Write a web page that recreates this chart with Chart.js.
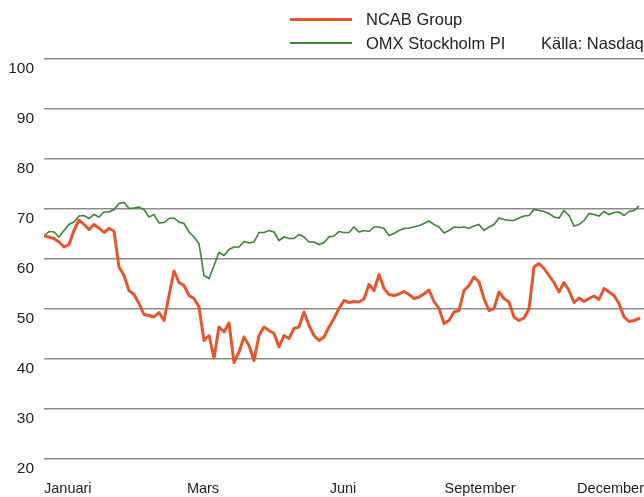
<!DOCTYPE html>
<html>
<head>
<meta charset="utf-8">
<script src="https://cdn.jsdelivr.net/npm/chart.js@4.4.1/dist/chart.umd.min.js"></script>
<style>
  html, body { margin:0; padding:0; background:#fff; }
  #wrap { position:relative; width:644px; height:497px; overflow:hidden; }
  .lg { position:absolute; font-family:"Liberation Sans",Arial,sans-serif; font-size:16.5px; color:#222; line-height:20px; white-space:nowrap; }
  .sw { position:absolute; height:3px; width:62px; }
</style>
</head>
<body>
<div id="wrap">
  <canvas id="c" width="644" height="497"></canvas>
  <div class="sw" style="left:290px; top:18px; background:#e8542b;"></div>
  <div class="lg" style="left:366px; top:9px;">NCAB Group</div>
  <div class="sw" style="left:290px; top:42px; height:2px; background:#3d8535;"></div>
  <div class="lg" style="left:366px; top:33px;">OMX Stockholm PI</div>
  <div class="lg" style="left:541px; top:33px;">Källa: Nasdaq</div>
</div>
<script>
// x-axis month labels and their positions (in sample-index units, 0..120)
const monthLabels = ["Januari", "Mars", "Juni", "September", "December"];
const monthPositions = [0, 31.8, 59.8, 87.2, 120];

// NCAB Group (indexed)
const ncab = [
  64.6, 64.4, 64.1, 63.4, 62.4, 62.9, 65.7, 67.8, 66.9, 65.9,
  66.9, 66.2, 65.3, 66.1, 65.6, 58.4, 56.7, 53.7, 52.9, 51.1,
  48.9, 48.7, 48.4, 49.3, 47.7, 52.7, 57.6, 55.3, 54.7, 52.7,
  52.1, 50.4, 43.7, 44.7, 40.2, 46.4, 45.4, 47.2, 39.3, 41.4,
  44.4, 42.7, 39.7, 44.7, 46.4, 45.7, 45.1, 42.4, 44.7, 44.1,
  46.1, 46.4, 49.4, 46.7, 44.7, 43.7, 44.4, 46.4, 48.1, 50.1,
  51.7, 51.3, 51.5, 51.4, 52.0, 54.9, 53.7, 56.9, 54.1, 52.9,
  52.7, 53.0, 53.5, 52.9, 52.1, 52.4, 53.0, 53.8, 51.5, 50.1,
  47.1, 47.7, 49.4, 49.7, 53.7, 54.7, 56.4, 55.4, 52.1, 49.7,
  50.1, 53.4, 52.1, 51.4, 48.4, 47.7, 48.2, 50.0, 58.4, 59.1,
  58.1, 56.7, 55.3, 53.4, 55.3, 53.7, 51.3, 52.2, 51.5, 52.1,
  52.6, 51.9, 54.1, 53.4, 52.7, 51.1, 48.4, 47.5, 47.7, 48.1
];

// OMX Stockholm PI (indexed)
const omx = [
  64.6, 65.5, 65.4, 64.4, 65.7, 66.9, 67.4, 68.6, 68.7, 68.1,
  68.9, 68.4, 69.4, 69.4, 69.9, 71.1, 71.3, 70.1, 70.2, 70.4,
  69.9, 68.4, 68.9, 67.2, 67.3, 68.1, 68.2, 67.4, 67.1, 65.4,
  64.4, 63.1, 56.7, 56.1, 58.7, 61.3, 60.7, 61.9, 62.4, 62.4,
  63.5, 63.2, 63.4, 65.3, 65.3, 65.7, 65.4, 63.7, 64.4, 64.1,
  64.1, 64.9, 64.4, 63.4, 63.4, 62.9, 63.3, 64.4, 64.6, 65.5,
  65.3, 65.3, 66.4, 65.4, 65.7, 65.5, 66.4, 66.4, 66.1, 64.7,
  65.1, 65.7, 66.1, 66.2, 66.4, 66.7, 67.1, 67.6, 66.9, 66.4,
  65.2, 65.7, 66.4, 66.3, 66.4, 66.1, 66.6, 66.9, 65.7, 66.4,
  66.9, 68.2, 67.9, 67.7, 67.7, 68.2, 68.6, 68.7, 69.9, 69.7,
  69.5, 69.1, 68.4, 68.2, 69.7, 68.7, 66.6, 66.9, 67.7, 69.1,
  68.9, 68.6, 69.5, 68.9, 69.3, 69.4, 68.7, 69.5, 69.7, 70.6
];

const FONT = "'Liberation Sans', Arial, sans-serif";

new Chart(document.getElementById('c'), {
  type: 'line',
  data: {
    datasets: [
      { label: 'NCAB Group', data: ncab.map((v, i) => ({ x: i, y: v })),
        borderColor: '#e8542b', borderWidth: 3, pointRadius: 0, tension: 0,
        borderJoinStyle: 'round', borderCapStyle: 'round' },
      { label: 'OMX Stockholm PI', data: omx.map((v, i) => ({ x: i, y: v })),
        borderColor: '#3d8535', borderWidth: 1.6, pointRadius: 0, tension: 0 }
    ]
  },
  options: {
    responsive: false,
    animation: false,
    devicePixelRatio: 1,
    layout: { padding: { top: 59, left: 0, right: 0, bottom: 0 } },
    plugins: { legend: { display: false }, tooltip: { enabled: false } },
    scales: {
      x: {
        type: 'linear', min: 0, max: 120,
        afterFit: s => { s.height = 38; s.paddingLeft = 0; s.paddingRight = 0; },
        afterBuildTicks: s => { s.ticks = monthPositions.map(v => ({ value: v })); },
        grid: { display: false, drawTicks: false },
        border: { display: false },
        ticks: {
          autoSkip: false, maxRotation: 0, align: 'inner', padding: 21,
          color: '#222', font: { family: FONT, size: 14.5 },
          callback: (v, idx) => monthLabels[idx]
        }
      },
      y: {
        min: 20, max: 100,
        afterFit: s => { s.width = 44; },
        grid: { color: '#8c8c8c', lineWidth: 1.5, drawTicks: false },
        border: { display: false },
        ticks: { stepSize: 10, padding: 10, labelOffset: 9.5, color: '#222',
                 font: { family: FONT, size: 15.5 } }
      }
    }
  }
});
</script>
</body>
</html>
